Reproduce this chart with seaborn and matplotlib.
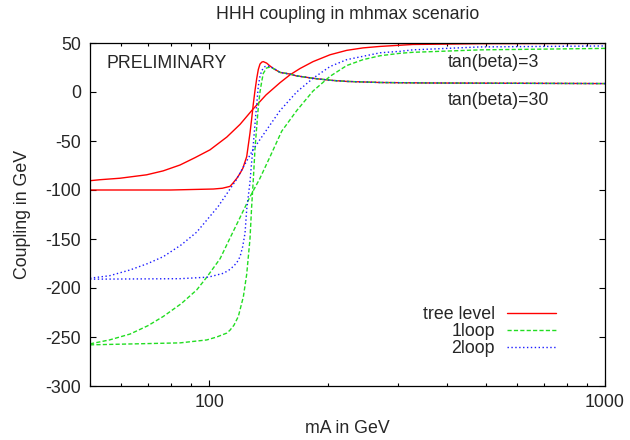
import numpy as np
import pandas as pd
import matplotlib
matplotlib.use("Agg")
import matplotlib.pyplot as plt
import seaborn as sns
from matplotlib.ticker import FixedLocator, FixedFormatter, LogLocator, NullFormatter

# ---------------- data ----------------
orders = ["tree level", "1loop", "2loop"]

# tree level, tan(beta)=3
tree_tb3_mA = [50, 53, 59.5, 69.5, 76.5, 84.4, 92.1, 100.5, 110.8, 119.7, 129, 139.2, 151, 160, 169.7,
               183, 202, 222.6, 244.7, 270, 327, 484, 1000]
tree_tb3_val = [-90.5, -89.5, -88, -84.5, -80.5, -74.5, -67, -59, -46, -33, -17.5, -3, 9.5, 17.5, 24,
                31, 38, 42.5, 45, 46.5, 48.5, 49.3, 49.6]

# tree level, tan(beta)=30
tree_tb30_mA = [50, 80, 102.5, 108, 112.9, 115.1, 117.5, 119.7, 121.6, 124.4, 126.8, 128, 129.3, 130.6,
                131.9, 133.1, 134.4, 135.8, 137, 139.7, 142, 145.2, 151, 160, 166, 183, 202, 222.6,
                270, 361, 484, 1000]
tree_tb30_val = [-100, -100, -99, -98.2, -96.3, -92.5, -88, -83, -78, -66, -42, -28, -12, 2,
                 14, 23, 28.5, 30.5, 31, 29.5, 27, 24, 20, 18.3, 16.5, 14, 12, 10.8,
                 9.7, 9.2, 9, 8.6]

# 1loop, tan(beta)=3
l1_tb3_mA = [50, 56, 63.1, 70, 76.6, 85, 93.0, 98.6, 106.6, 112.9, 119.7, 126.8, 134.4, 142.5, 152.5,
             166.4, 183, 202, 222.6, 244.7, 270.2, 303.5, 327, 484, 1000]
l1_tb3_val = [-257, -253, -247, -238.5, -229, -216, -202, -189, -170, -149, -128, -107, -88, -66, -40,
              -19, 1, 16, 27, 33, 37, 39.5, 40.5, 43, 44.5]

# 1loop, tan(beta)=30
l1_tb30_mA = [50, 84.4, 98.6, 104.5, 110.8, 112.9, 115.5, 118.5, 122, 124.4, 126.8, 128, 129.3, 130.6,
              131.9, 133.1, 134.4, 135.8, 137, 139.7, 142.5, 145.2, 151, 160, 166, 183, 202, 222.6,
              270, 361, 484, 1000]
l1_tb30_val = [-258, -256, -253, -250, -246, -243, -238, -229, -209, -186, -150, -118, -89, -57,
               -35, -15, 0, 11, 19, 24.5, 25.5, 24, 20, 18.3, 16.5, 14, 12, 10.8,
               9.7, 9.2, 9, 8.6]

# 2loop, tan(beta)=3
l2_tb3_mA = [50, 56, 63.1, 70, 76.6, 85, 93.0, 105.3, 116.9, 129, 138.4, 151, 166.4, 183, 202, 222.6,
             270.2, 303.5, 327, 484, 1000]
l2_tb3_val = [-190, -187.5, -181.6, -175, -168, -156, -143, -117, -90, -59, -41, -19, 0, 14, 26, 33,
              40, 41.5, 43, 46, 47]

# 2loop, tan(beta)=30
l2_tb30_mA = [50, 84.4, 98.6, 100.5, 108.6, 112, 115.1, 117.5, 119.7, 121.5, 123.2, 124.4, 126.8, 128,
              129.3, 130.6, 131.9, 133.1, 134.4, 135.8, 138.4, 140.8, 145.2, 151, 160, 166, 183, 202,
              222.6, 270, 361, 484, 1000]
l2_tb30_val = [-191, -190.5, -189, -188.5, -185, -182, -178, -174, -168, -158, -144, -120, -92, -72,
               -53, -32, -12, 6, 16, 22, 26, 26.5, 24.5, 20, 18.3, 16.5, 14, 12,
               10.8, 9.7, 9.2, 9, 8.6]

series = [
    ("tree level", "3", tree_tb3_mA, tree_tb3_val),
    ("tree level", "30", tree_tb30_mA, tree_tb30_val),
    ("1loop", "3", l1_tb3_mA, l1_tb3_val),
    ("1loop", "30", l1_tb30_mA, l1_tb30_val),
    ("2loop", "3", l2_tb3_mA, l2_tb3_val),
    ("2loop", "30", l2_tb30_mA, l2_tb30_val),
]
frames = [pd.DataFrame({"mA": xs, "coupling": ys, "order": o, "tanb": tb}) for o, tb, xs, ys in series]
df = pd.concat(frames, ignore_index=True)

# ---------------- style ----------------
sns.set_style("ticks")
plt.rcParams["font.family"] = ["Liberation Sans", "DejaVu Sans"]
plt.rcParams["font.size"] = 12.8
plt.rcParams["axes.unicode_minus"] = False

palette = {"tree level": "#ff0000", "1loop": "#22dd22", "2loop": "#1a1aff"}
dashes = {"tree level": "", "1loop": (3, 1.6), "2loop": (1.0, 1.8)}

fig = plt.figure(figsize=(6.3, 4.4), dpi=100)
ax = fig.add_axes([90 / 630, 1 - 386 / 440, 515 / 630, 343 / 440])

sns.lineplot(data=df, x="mA", y="coupling", hue="order", style="order", units="tanb",
             estimator=None, sort=False, hue_order=orders, style_order=orders,
             palette=palette, dashes=dashes, linewidth=1.0, ax=ax)

ax.set_xscale("log")
ax.set_xlim(50, 1000)
ax.set_ylim(-300, 50)
ax.set_yticks(np.arange(-300, 51, 50))
ax.xaxis.set_major_locator(FixedLocator([100, 1000]))
ax.xaxis.set_major_formatter(FixedFormatter(["100", "1000"]))
ax.xaxis.set_minor_locator(LogLocator(base=10, subs=np.arange(2, 10)))
ax.xaxis.set_minor_formatter(NullFormatter())

ax.tick_params(which="both", direction="in", top=True, right=True, color="black", width=0.8)
ax.tick_params(which="major", length=4.3)
ax.tick_params(which="minor", length=2.5)
ax.tick_params(axis="x", which="major", pad=6)
ax.tick_params(axis="y", which="major", pad=6.5)
for s in ax.spines.values():
    s.set_linewidth(0.9)
    s.set_color("black")

ax.set_title("HHH coupling in mhmax scenario", fontsize=12.8, pad=17)
ax.set_xlabel("mA in GeV", labelpad=6.5)
ax.set_ylabel("Coupling in GeV", labelpad=10)

ax.text(0.033, 0.926, "PRELIMINARY", transform=ax.transAxes, ha="left", va="baseline")
ax.text(0.695, 0.931, "tan(beta)=3", transform=ax.transAxes, ha="left", va="baseline")
ax.text(0.695, 0.82, "tan(beta)=30", transform=ax.transAxes, ha="left", va="baseline")

handles, labels = ax.get_legend_handles_labels()
sel = [(h, l) for h, l in zip(handles, labels) if l in orders]
ax.legend([h for h, _ in sel], [l for _, l in sel], loc="lower right",
          bbox_to_anchor=(0.904, 0.085), frameon=False, markerfirst=False,
          handlelength=2.75, handletextpad=0.66, labelspacing=0.0, borderpad=0,
          borderaxespad=0)

fig.savefig("out.png", dpi=100)
